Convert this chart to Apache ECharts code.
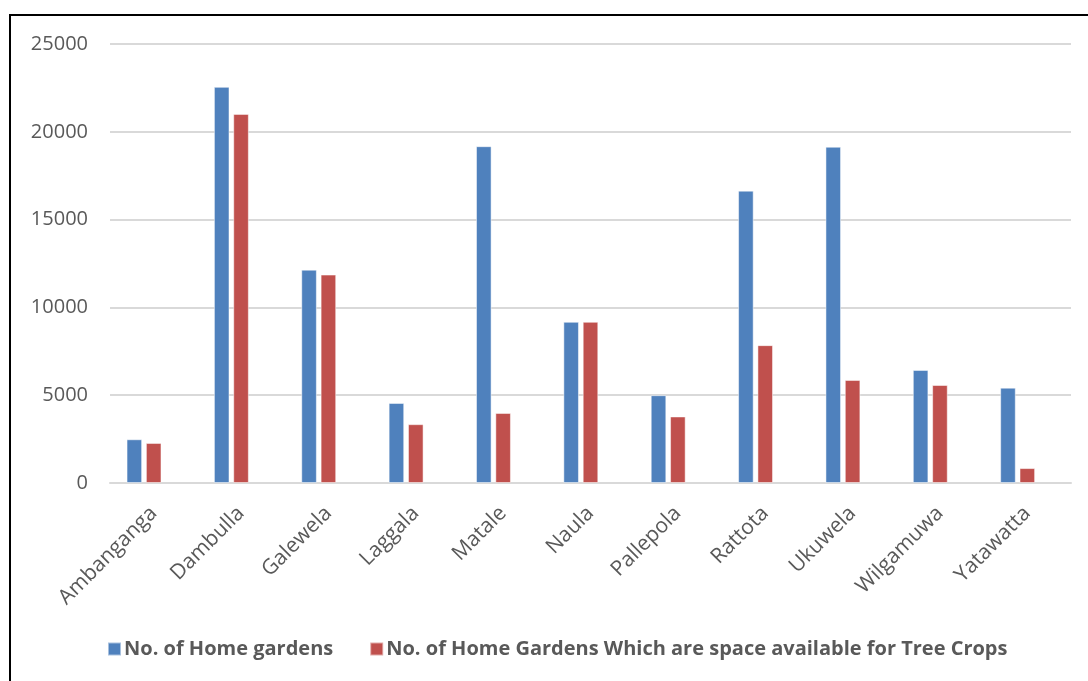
<!DOCTYPE html>
<html>
<head>
<meta charset="utf-8">
<script src="https://cdn.jsdelivr.net/npm/echarts@6/dist/echarts.min.js"></script>
<style>
html,body{margin:0;padding:0;background:#fff;}
#chart{width:1088px;height:681px;}
</style>
</head>
<body>
<div id="chart"></div>
<script>
const categories = ['Ambanganga','Dambulla','Galewela','Laggala','Matale','Naula','Pallepola','Rattota','Ukuwela','Wilgamuwa','Yatawatta'];
const homeGardens = [2490, 22560, 12150, 4560, 19180, 9180, 5000, 16650, 19150, 6440, 5430];
const treeCropSpace = [2280, 21020, 11870, 3350, 3990, 9180, 3790, 7850, 5870, 5580, 850];
const emptySeries = categories.map(() => null);
const yTicks = [0, 5000, 10000, 15000, 20000, 25000];
const seriesNames = ['No. of Home gardens', 'No. of Home Gardens Which are space available for Tree Crops'];

const chart = echarts.init(document.getElementById('chart'));
const textColor = '#595959';
const font = '"Open Sans", "Noto Sans", sans-serif';
chart.setOption({
  animation: false,
  backgroundColor: '#ffffff',
  graphic: [{
    type: 'rect',
    shape: { x: 10, y: 15, width: 1200, height: 800 },
    style: { fill: 'none', stroke: '#000000', lineWidth: 2 },
    silent: true
  }],
  grid: { left: 110, right: 17, top: 44, bottom: 198, containLabel: false },
  legend: {
    data: seriesNames,
    left: 102,
    top: 634,
    itemWidth: 13,
    itemHeight: 13,
    itemGap: 36,
    icon: 'rect',
    textStyle: { color: textColor, fontSize: 20, fontWeight: 'bold', fontFamily: font, padding: [0, 0, 0, -2] }
  },
  xAxis: {
    type: 'category',
    data: categories,
    axisLine: { show: true, lineStyle: { color: '#d9d9d9', width: 2 } },
    axisTick: { show: false },
    axisLabel: { rotate: 45, color: textColor, fontSize: 21, fontFamily: font, margin: 27, interval: 0 }
  },
  yAxis: {
    type: 'value',
    min: yTicks[0],
    max: yTicks[yTicks.length - 1],
    interval: 5000,
    axisLine: { show: false },
    axisTick: { show: false },
    splitLine: { lineStyle: { color: '#d9d9d9', width: 2 } },
    axisLabel: { color: textColor, fontSize: 20, fontFamily: font, margin: 22, formatter: (v) => String(v) }
  },
  series: [
    {
      name: seriesNames[0], type: 'bar', data: homeGardens,
      barWidth: 15.6, barGap: '24%',
      itemStyle: { color: '#4F81BD', borderColor: 'rgba(255,255,255,0.5)', borderWidth: 1 }
    },
    {
      name: seriesNames[1], type: 'bar', data: treeCropSpace,
      barWidth: 15.6, barGap: '24%',
      itemStyle: { color: '#C0504D', borderColor: 'rgba(255,255,255,0.5)', borderWidth: 1 }
    },
    {
      name: 'spacer', type: 'bar', data: emptySeries,
      barWidth: 15.6, barGap: '24%',
      itemStyle: { color: 'rgba(0,0,0,0)' }, silent: true
    }
  ]
});
</script>
</body>
</html>
